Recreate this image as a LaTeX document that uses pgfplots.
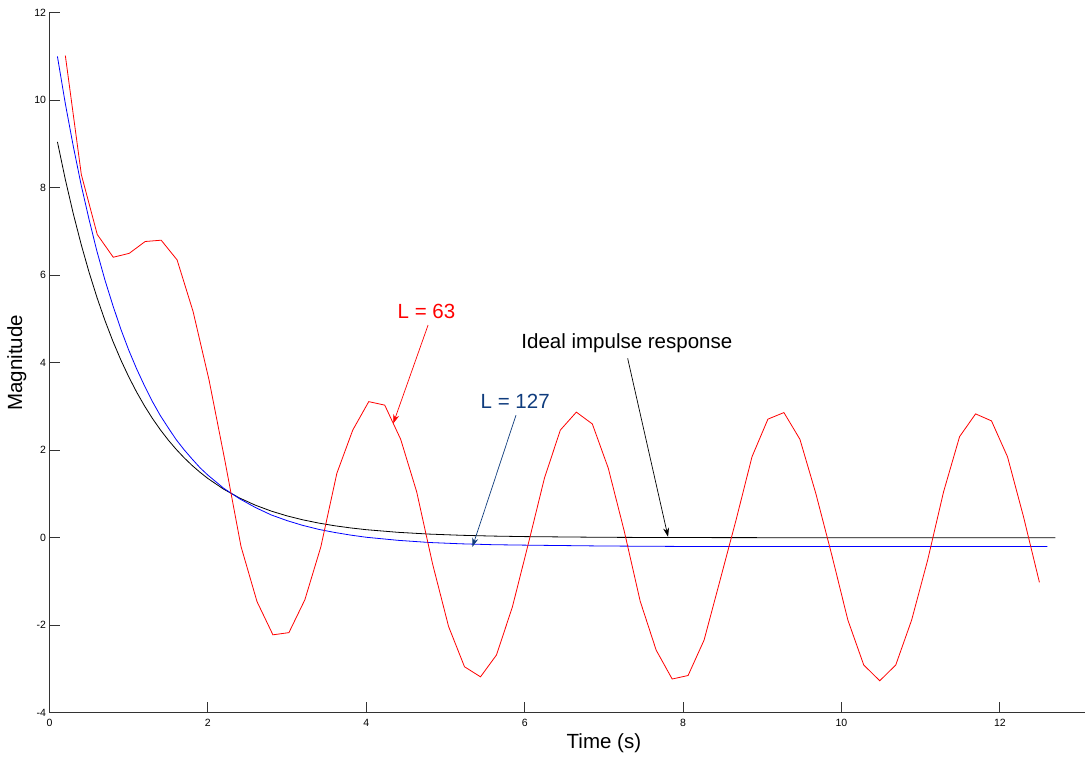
\documentclass[border=0pt]{standalone}
\usepackage{pgfplots}
\pgfplotsset{compat=1.18}
\usepackage{fontspec}
\setmainfont{Liberation Sans}
\usetikzlibrary{arrows.meta}
\definecolor{lblue}{RGB}{15,60,125}
\begin{document}
\begin{tikzpicture}
\begin{axis}[
  scale only axis,
  width=1108.8pt, height=700pt,
  xmin=0, xmax=14, ymin=-4, ymax=12,
  axis lines*=left,
  axis line style={black!80, line width=0.9pt},
  tick style={black!80, line width=0.9pt},
  tick align=inside,
  major tick length=11pt,
  xtick={0,2,4,6,8,10,12},
  ytick={-4,-2,0,2,4,6,8,10,12},
  /pgf/number format/assume math mode=true,
  tick label style={font=\fontsize{10.5}{12}\selectfont},
  xticklabel style={yshift=-3.4pt},
  xlabel={Time (s)},
  ylabel={Magnitude},
  label style={font=\fontsize{20.5}{24}\selectfont},
  xlabel style={at={([yshift=-30.6pt]axis description cs:0.5,0)}, anchor=center},
  ylabel style={at={([xshift=-32.8pt]axis description cs:0,0.5)}, anchor=center},
]
% Ideal impulse response
\addplot[black, line width=0.8pt] coordinates {
(0.1,9.048) (0.2,8.187) (0.3,7.408) (0.4,6.703) (0.5,6.065) (0.6,5.488) (0.7,4.966) (0.8,4.493) (0.9,4.066) (1.0,3.679)
(1.1,3.329) (1.2,3.012) (1.3,2.725) (1.4,2.466) (1.5,2.231) (1.6,2.019) (1.7,1.827) (1.8,1.653) (1.9,1.496) (2.0,1.353)
(2.2,1.108) (2.4,0.907) (2.6,0.743) (2.8,0.608) (3.0,0.498) (3.2,0.408) (3.4,0.334) (3.6,0.273) (3.8,0.224) (4.0,0.183)
(4.4,0.123) (4.8,0.082) (5.2,0.055) (5.6,0.037) (6.0,0.025) (7.0,0.009) (8.0,0.003) (9.0,0.001) (10.0,0.0) (12.7,0.0)
};
% L = 127
\addplot[blue, line width=0.8pt] coordinates {
(0.1,11.00) (0.2,9.92) (0.3,8.95) (0.4,8.06) (0.5,7.27) (0.6,6.54) (0.7,5.89) (0.8,5.31) (0.9,4.77) (1.0,4.29)
(1.1,3.86) (1.2,3.47) (1.3,3.11) (1.4,2.79) (1.5,2.51) (1.6,2.24) (1.7,2.01) (1.8,1.80) (1.9,1.60) (2.0,1.43)
(2.2,1.13) (2.4,0.89) (2.6,0.69) (2.8,0.52) (3.0,0.39) (3.2,0.28) (3.4,0.19) (3.6,0.12) (3.8,0.06) (4.0,0.01)
(4.4,-0.06) (4.8,-0.11) (5.2,-0.14) (5.6,-0.16) (6.0,-0.17) (7.0,-0.19) (8.0,-0.20) (12.6,-0.20)
};
% L = 63
\addplot[red, line width=0.8pt] coordinates {
(0.200,11.02) (0.402,8.30) (0.603,6.93) (0.805,6.41) (1.007,6.50) (1.208,6.77) (1.410,6.80) (1.611,6.35)
(1.813,5.17) (2.015,3.60) (2.216,1.75) (2.418,-0.20) (2.620,-1.46) (2.821,-2.22) (3.023,-2.17) (3.224,-1.42)
(3.426,-0.21) (3.628,1.47) (3.829,2.46) (4.031,3.11) (4.233,3.03) (4.434,2.25) (4.636,1.05) (4.837,-0.60)
(5.039,-2.03) (5.240,-2.95) (5.442,-3.18) (5.644,-2.68) (5.845,-1.58) (6.047,-0.13) (6.249,1.36) (6.450,2.46)
(6.652,2.87) (6.854,2.60) (7.055,1.59) (7.257,0.15) (7.458,-1.45) (7.660,-2.57) (7.862,-3.23) (8.063,-3.15)
(8.265,-2.34) (8.467,-0.97) (8.668,0.40) (8.870,1.85) (9.071,2.71) (9.273,2.86) (9.475,2.25) (9.676,1.01)
(9.878,-0.40) (10.080,-1.88) (10.281,-2.91) (10.483,-3.27) (10.685,-2.91) (10.886,-1.88) (11.088,-0.51) (11.289,1.05)
(11.491,2.31) (11.693,2.83) (11.894,2.67) (12.096,1.85) (12.298,0.48) (12.499,-1.02)
};
% annotations
\node[red, font=\fontsize{20.5}{24}\selectfont] at (axis cs:4.76,5.17) {L = 63};
\draw[red, line width=0.7pt, -{Stealth[length=9pt,width=6pt]}] (axis cs:4.78,4.86) -- (axis cs:4.34,2.61);
\node[lblue, font=\fontsize{20.5}{24}\selectfont] at (axis cs:5.88,3.11) {L = 127};
\draw[lblue, line width=0.7pt, -{Stealth[length=9pt,width=6pt]}] (axis cs:5.89,2.80) -- (axis cs:5.34,-0.21);
\node[black, font=\fontsize{20.5}{24}\selectfont] at (axis cs:7.29,4.44) {Ideal impulse response};
\draw[black, line width=0.7pt, -{Stealth[length=9pt,width=6pt]}] (axis cs:7.30,4.10) -- (axis cs:7.81,0.02);
\end{axis}
\pgfresetboundingbox
\useasboundingbox (-49.5pt,-48.3pt) rectangle (1035.5pt,712.7pt);
\end{tikzpicture}
\end{document}
